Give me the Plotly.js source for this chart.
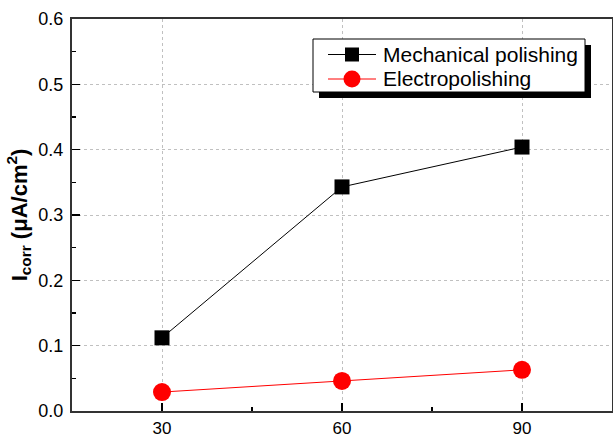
<!DOCTYPE html>
<html><head><meta charset="utf-8">
<script src="https://cdn.plot.ly/plotly-3.0.1.min.js"></script>
<style>html,body{margin:0;padding:0;background:#fff}</style>
</head><body><div id="chart" style="width:613px;height:440px"></div>
<script>
var xValues = [30, 60, 90];
var mechanical = [0.112, 0.343, 0.404];
var electro = [0.029, 0.046, 0.063];
var seriesNames = ["Mechanical polishing", "Electropolishing"];
var seriesColors = ['#000000', '#ff0000'];
var xTicks = [30, 60, 90];
var yTicks = [0.0, 0.1, 0.2, 0.3, 0.4, 0.5, 0.6];

var M = {l: 72, r: 1, t: 19, b: 29};
var W = 613, H = 440;
var pw = W - M.l - M.r, ph = H - M.t - M.b;
function px(x) { return (x - M.l) / pw; }
function py(y) { return (H - M.b - y) / ph; }

var traces = [
  {x: xValues, y: mechanical, name: seriesNames[0], type: 'scatter', mode: 'lines+markers',
   line: {color: seriesColors[0], width: 1}, marker: {symbol: 'square', size: 15, color: seriesColors[0]}},
  {x: xValues, y: electro, name: seriesNames[1], type: 'scatter', mode: 'lines+markers',
   line: {color: seriesColors[1], width: 1}, marker: {symbol: 'circle', size: 18, color: seriesColors[1]}}
];

// custom legend (box with drop shadow, sample lines, markers, labels)
var box = {x0: 313, x1: 585, y0: 39, y1: 92}, sh = 6;
var rows = [54.5, 79];
var shapes = [
  {type: 'rect', xref: 'paper', yref: 'paper', x0: px(box.x0 + sh), x1: px(box.x1 + sh),
   y0: py(box.y1 + sh), y1: py(box.y0 + sh), fillcolor: '#000', line: {width: 0}, layer: 'above'},
  {type: 'rect', xref: 'paper', yref: 'paper', x0: px(box.x0), x1: px(box.x1),
   y0: py(box.y1), y1: py(box.y0), fillcolor: '#fff', line: {width: 1, color: '#000'}, layer: 'above'}
];
var annotations = [];
rows.forEach(function(ry, i) {
  shapes.push({type: 'line', xref: 'paper', yref: 'paper', x0: px(328), x1: px(376), y0: py(ry), y1: py(ry),
    line: {color: seriesColors[i], width: 1}, layer: 'above'});
  var r = i === 0 ? 7 : 8.5;
  shapes.push({type: i === 0 ? 'rect' : 'circle', xref: 'paper', yref: 'paper',
    x0: px(352 - r), x1: px(352 + r), y0: py(ry + r), y1: py(ry - r),
    fillcolor: seriesColors[i], line: {width: 0}, layer: 'above'});
  annotations.push({xref: 'paper', yref: 'paper', x: px(381), y: py(ry), xanchor: 'left', yanchor: 'middle',
    text: seriesNames[i], showarrow: false, font: {size: 21, color: '#000'}});
});

var layout = {
  width: W, height: H,
  margin: M,
  paper_bgcolor: '#fff', plot_bgcolor: '#fff',
  font: {family: 'Arial, Liberation Sans, sans-serif', color: '#000', size: 17},
  showlegend: false,
  xaxis: {range: [15, 105], tickvals: xTicks, ticktext: xTicks.map(String), ticks: 'inside', ticklen: 8,
    tickwidth: 1.5, tickcolor: '#000', showline: true, linecolor: '#333', linewidth: 2, mirror: true,
    showgrid: true, gridcolor: '#c0c0c0', griddash: '3px,3px', gridwidth: 1, zeroline: false,
    minor: {ticks: 'inside', ticklen: 4, dtick: 15, tick0: 0, tickcolor: '#000', showgrid: false},
    tickfont: {size: 17}, ticklabelstandoff: 1},
  yaxis: {range: [0, 0.6], tickvals: yTicks, ticktext: yTicks.map(function(v){return v.toFixed(1);}),
    ticks: 'inside', ticklen: 8, tickwidth: 1.5, tickcolor: '#000', showline: true, linecolor: '#333',
    linewidth: 2, mirror: true, showgrid: true, gridcolor: '#c0c0c0', griddash: '3px,3px', gridwidth: 1,
    zeroline: false, minor: {ticks: 'inside', ticklen: 4, dtick: 0.05, tick0: 0, tickcolor: '#000', showgrid: false},
    tickfont: {size: 18}, ticklabelstandoff: 3,
    title: {text: '<b>I<sub>corr</sub> (μA/cm<sup>2</sup>)</b>', font: {size: 22}, standoff: 5}},
  shapes: shapes,
  annotations: annotations
};
Plotly.newPlot('chart', traces, layout, {displayModeBar: false, staticPlot: true});
</script></body></html>
